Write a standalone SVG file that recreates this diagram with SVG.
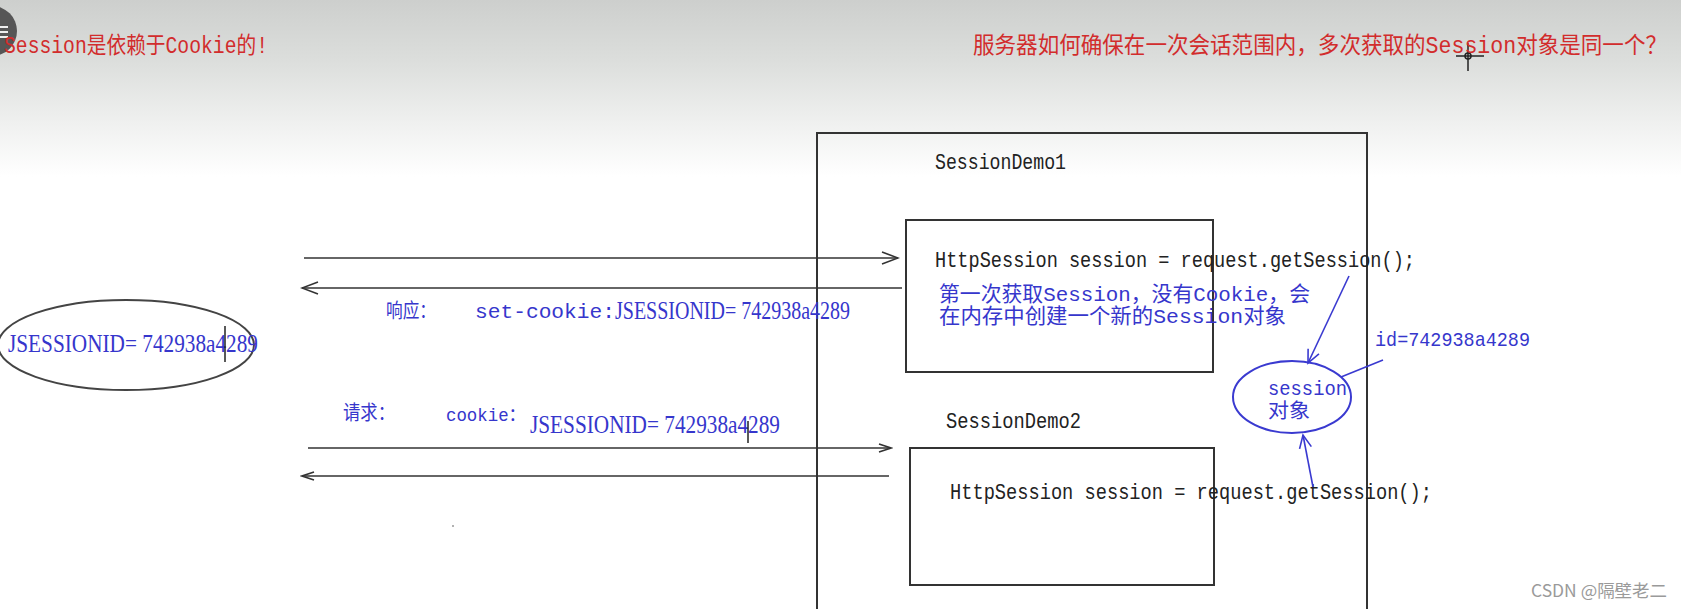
<svg xmlns="http://www.w3.org/2000/svg" width="1681" height="609" viewBox="0 0 1681 609">
<defs>
<linearGradient id="bg" x1="0" y1="0" x2="0" y2="609" gradientUnits="userSpaceOnUse">
<stop offset="0" stop-color="#cdcfcd"/>
<stop offset="0.1" stop-color="#dcdedc"/>
<stop offset="0.2" stop-color="#eff0ef"/>
<stop offset="0.29" stop-color="#ffffff"/>
<stop offset="1" stop-color="#ffffff"/>
</linearGradient>
<marker id="ah" viewBox="-18 -8 20 16" refX="0" refY="0" markerWidth="20" markerHeight="16" markerUnits="userSpaceOnUse" orient="auto-start-reverse">
<path d="M-16,-6 L0,0 L-16,6" fill="none" stroke="#333" stroke-width="1.6"/>
</marker>
<marker id="ahs" viewBox="-18 -8 20 16" refX="0" refY="0" markerWidth="20" markerHeight="16" markerUnits="userSpaceOnUse" orient="auto-start-reverse">
<path d="M-12,-4 L0,0 L-12,4" fill="none" stroke="#333" stroke-width="1.6"/>
</marker>
<marker id="ahb" viewBox="-18 -8 20 16" refX="0" refY="0" markerWidth="20" markerHeight="16" markerUnits="userSpaceOnUse" orient="auto">
<path d="M-13,-6 L0,0 L-13,6" fill="none" stroke="#3a3ad0" stroke-width="1.6"/>
</marker>
<style>
.red{fill:#d22c2c;font-family:"Liberation Mono","Noto Sans CJK SC",monospace;font-size:23px}
.blue{fill:#3636cc;font-family:"Liberation Mono","Noto Sans CJK SC",monospace;font-size:21px}
.jid{fill:#3636cc;font-family:"Liberation Serif","Noto Sans CJK SC",serif;font-size:25px}
.bluecjk{fill:#3636cc;font-family:"Noto Sans CJK SC",sans-serif;font-size:20px}
.code{fill:#222;font-family:"Liberation Mono","Noto Sans CJK SC",monospace;font-size:22px}
.box{fill:none;stroke:#333;stroke-width:2}
.conn{fill:none;stroke:#333;stroke-width:1.6}
.bconn{fill:none;stroke:#3a3ad0;stroke-width:1.6}
.wm{fill:#9a9a9a;font-family:"Noto Sans CJK SC",sans-serif;font-size:17px}
</style>
</defs>
<rect x="0" y="0" width="1681" height="609" fill="url(#bg)"/>
<g id="player-ui">
<circle cx="-8" cy="31" r="25" fill="#565656"/>
<rect x="0" y="26" width="8" height="2" fill="#eee"/>
<rect x="0" y="31" width="8" height="2" fill="#eee"/>
<rect x="0" y="36" width="8" height="2" fill="#eee"/>
<g stroke="#222" stroke-width="1.5" fill="none">
<line x1="1468" y1="43" x2="1468" y2="71"/>
<line x1="1456" y1="56" x2="1484" y2="56"/>
<circle cx="1468" cy="56" r="3"/>
</g>
</g>
<g id="title-left">
<text class="red" x="4" y="53" textLength="264" lengthAdjust="spacingAndGlyphs">Session是依赖于Cookie的!</text>
</g>
<g id="title-right">
<text class="red" x="973" y="53" textLength="694" lengthAdjust="spacingAndGlyphs">服务器如何确保在一次会话范围内，多次获取的Session对象是同一个？</text>
</g>
<g id="server">
<rect class="box" x="817" y="133" width="550" height="500"/>
</g>
<g id="demo1">
<text class="code" x="935" y="169" textLength="131" lengthAdjust="spacingAndGlyphs">SessionDemo1</text>
<rect class="box" x="906" y="220" width="307" height="152"/>
<text class="code" x="935" y="267" textLength="480" lengthAdjust="spacingAndGlyphs">HttpSession session = request.getSession();</text>
<text class="blue" x="939" y="301" textLength="371" lengthAdjust="spacingAndGlyphs">第一次获取Session，没有Cookie，会</text>
<text class="blue" x="939" y="323" textLength="347" lengthAdjust="spacingAndGlyphs">在内存中创建一个新的Session对象</text>
</g>
<g id="demo2">
<text class="code" x="946" y="428" textLength="135" lengthAdjust="spacingAndGlyphs">SessionDemo2</text>
<rect class="box" x="910" y="448" width="304" height="137"/>
<text class="code" x="950" y="499" textLength="482" lengthAdjust="spacingAndGlyphs">HttpSession session = request.getSession();</text>
</g>
<g id="cookie-ellipse">
<ellipse cx="126" cy="345" rx="128" ry="45" fill="none" stroke="#444" stroke-width="2"/>
<text class="jid" x="8" y="352" textLength="250" lengthAdjust="spacingAndGlyphs">JSESSIONID= 742938a4289</text>
<line x1="225" y1="326" x2="225" y2="362" stroke="#222" stroke-width="1.5"/>
</g>
<g id="session-object">
<ellipse cx="1292" cy="397" rx="59" ry="36" fill="none" stroke="#3a3ad0" stroke-width="2"/>
<text class="blue" x="1268" y="395" textLength="79" lengthAdjust="spacingAndGlyphs">session</text>
<text class="bluecjk" x="1268" y="418" textLength="42" lengthAdjust="spacingAndGlyphs">对象</text>
<text class="blue" x="1375" y="346" textLength="155" lengthAdjust="spacingAndGlyphs">id=742938a4289</text>
</g>
<g id="labels">
<text class="bluecjk" x="386" y="318" textLength="50" lengthAdjust="spacingAndGlyphs">响应：</text>
<text class="blue" x="475" y="318" textLength="140" lengthAdjust="spacingAndGlyphs">set-cookie:</text>
<text class="jid" x="615" y="319" textLength="235" lengthAdjust="spacingAndGlyphs">JSESSIONID= 742938a4289</text>
<text class="bluecjk" x="343" y="420" textLength="52" lengthAdjust="spacingAndGlyphs">请求：</text>
<text class="blue" x="446" y="421" textLength="80" lengthAdjust="spacingAndGlyphs" style="font-size:18px">cookie：</text>
<text class="jid" x="530" y="433" textLength="250" lengthAdjust="spacingAndGlyphs">JSESSIONID= 742938a4289</text>
<line x1="748" y1="421" x2="748" y2="443" stroke="#222" stroke-width="1.5"/>
<circle cx="453" cy="526" r="1" fill="#999"/>
</g>
<g id="connectors">
<line class="conn" x1="304" y1="258" x2="898" y2="258" marker-end="url(#ah)"/>
<line class="conn" x1="902" y1="288" x2="302" y2="288" marker-end="url(#ah)"/>
<line class="conn" x1="308" y1="448" x2="891" y2="448" marker-end="url(#ahs)"/>
<line class="conn" x1="889" y1="476" x2="302" y2="476" marker-end="url(#ahs)"/>
<line class="bconn" x1="1349" y1="276" x2="1308" y2="363" marker-end="url(#ahb)"/>
<line class="bconn" x1="1313" y1="487" x2="1303" y2="435" marker-end="url(#ahb)"/>
<line class="bconn" x1="1341" y1="377" x2="1383" y2="360"/>
</g>
<g id="watermark">
<text class="wm" x="1531" y="597" textLength="136" lengthAdjust="spacingAndGlyphs">CSDN @隔壁老二</text>
</g>
</svg>
